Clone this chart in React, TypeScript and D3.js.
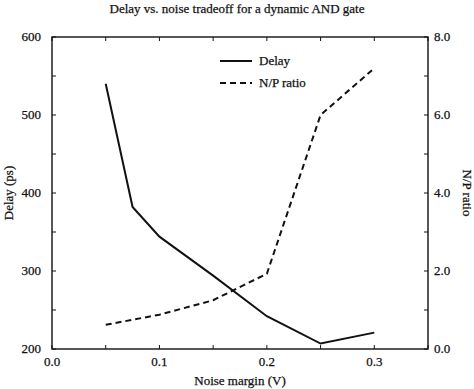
import * as d3 from 'd3';

const noiseMargin = [0.05, 0.075, 0.1, 0.15, 0.2, 0.25, 0.3];
const delayPs = [540, 382, 344, 294, 242, 207, 221];

const npMargin = [0.05, 0.1, 0.15, 0.2, 0.25, 0.3];
const npRatio = [0.62, 0.88, 1.25, 1.93, 6.0, 7.2];

const xTicks = [0.0, 0.1, 0.2, 0.3];
const xMinor = [0, 0.05, 0.1, 0.15, 0.2, 0.25, 0.3, 0.35];
const yLeftTicks = [200, 300, 400, 500, 600];
const yLeftMinor = [250, 350, 450, 550];
const yRightTicks = [0, 2, 4, 6, 8];
const yRightMinor = [1, 3, 5, 7];

const W = 474;
const H = 389;
const M = { top: 37, right: 46, bottom: 40, left: 52 };
const FONT = '"Liberation Serif", "Times New Roman", serif';

const App = () => {
  const x = d3.scaleLinear().domain([0, 0.35]).range([M.left, W - M.right]);
  const yL = d3.scaleLinear().domain([200, 600]).range([H - M.bottom, M.top]);
  const yR = d3.scaleLinear().domain([0, 8]).range([H - M.bottom, M.top]);

  const delayLine = d3.line<number>()
    .x((_, i) => x(noiseMargin[i]))
    .y(d => yL(d));
  const npLine = d3.line<number>()
    .x((_, i) => x(npMargin[i]))
    .y(d => yR(d));

  const x0 = x(0), x1 = x(0.35), yb = yL(200), yt = yL(600);
  const tk = 4;
  const textStyle = { fontFamily: FONT, fill: '#111', stroke: '#111', strokeWidth: 0.25 };

  return (
    <svg width={W} height={H} style={{ position: 'absolute', left: 0, top: 0, background: '#fff' }}>
      <text x={237} y={13} textAnchor="middle" fontSize={13} style={textStyle}>
        Delay vs. noise tradeoff for a dynamic AND gate
      </text>

      {/* frame */}
      <rect x={x0} y={yt} width={x1 - x0} height={yb - yt} fill="none" stroke="#111" strokeWidth={1.4} />

      {/* x ticks, bottom and top, inward */}
      {xMinor.map(v => (
        <g key={'xt' + v}>
          <line x1={x(v)} x2={x(v)} y1={yb} y2={yb - tk} stroke="#111" strokeWidth={1} />
          <line x1={x(v)} x2={x(v)} y1={yt} y2={yt + tk} stroke="#111" strokeWidth={1} />
        </g>
      ))}
      {xTicks.map(v => (
        <text key={'xl' + v} x={x(v)} y={yb + 17} textAnchor="middle" fontSize={13} style={textStyle}>
          {d3.format('.1f')(v)}
        </text>
      ))}

      {/* left axis */}
      {[...yLeftTicks, ...yLeftMinor].map(v => (
        <line key={'yl' + v} x1={x0} x2={x0 + tk} y1={yL(v)} y2={yL(v)} stroke="#111" strokeWidth={1} />
      ))}
      {yLeftTicks.map(v => (
        <text key={'yll' + v} x={x0 - 11} y={yL(v) + 4} textAnchor="end" fontSize={13} style={textStyle}>
          {v}
        </text>
      ))}

      {/* right axis */}
      {[...yRightTicks, ...yRightMinor].map(v => (
        <line key={'yr' + v} x1={x1} x2={x1 - tk} y1={yR(v)} y2={yR(v)} stroke="#111" strokeWidth={1} />
      ))}
      {yRightTicks.map(v => (
        <text key={'yrl' + v} x={x1 + 6} y={yR(v) + 4} textAnchor="start" fontSize={13} style={textStyle}>
          {d3.format('.1f')(v)}
        </text>
      ))}

      {/* series */}
      <path d={delayLine(delayPs) ?? ''} fill="none" stroke="#111" strokeWidth={2} strokeLinejoin="miter" />
      <path d={npLine(npRatio) ?? ''} fill="none" stroke="#111" strokeWidth={2} strokeDasharray="6 4" />

      {/* legend */}
      <line x1={220} x2={252} y1={61} y2={61} stroke="#111" strokeWidth={2} />
      <text x={259} y={65} fontSize={13} style={textStyle}>Delay</text>
      <line x1={220} x2={252} y1={83} y2={83} stroke="#111" strokeWidth={2} strokeDasharray="6 4" />
      <text x={259} y={87} fontSize={13} style={textStyle}>N/P ratio</text>

      {/* axis titles */}
      <text x={240} y={385} textAnchor="middle" fontSize={13} style={textStyle}>Noise margin (V)</text>
      <text transform={`translate(13, ${(yt + yb) / 2}) rotate(-90)`} textAnchor="middle" fontSize={13} style={textStyle}>
        Delay (ps)
      </text>
      <text transform={`translate(463, ${(yt + yb) / 2}) rotate(90)`} textAnchor="middle" fontSize={13} style={textStyle}>
        N/P ratio
      </text>
    </svg>
  );
};

export default App;
